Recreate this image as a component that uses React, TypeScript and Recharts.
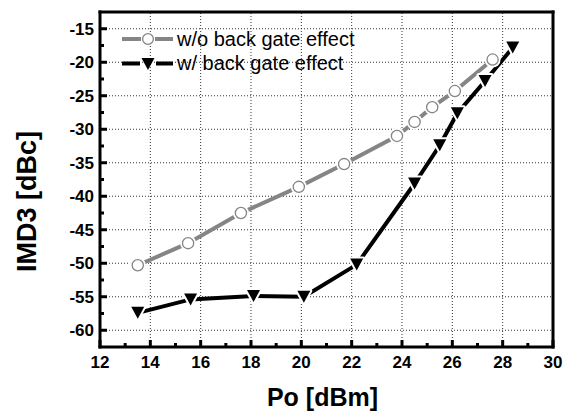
import React from 'react';
import { LineChart, Line, XAxis, YAxis, ReferenceLine } from 'recharts';

// Po [dBm] / IMD3 [dBc]
const poWithout = [13.5, 15.5, 17.6, 19.9, 21.7, 23.8, 24.5, 25.2, 26.1, 27.6];
const imdWithout = [-50.3, -47.0, -42.5, -38.6, -35.2, -31.0, -28.9, -26.7, -24.3, -19.6];
const poWith = [13.5, 15.6, 18.1, 20.1, 22.2, 24.5, 25.5, 26.2, 27.3, 28.4];
const imdWith = [-57.4, -55.4, -54.9, -55.0, -50.2, -38.1, -32.4, -27.6, -22.8, -17.8];

const xTicks = [12, 13, 14, 15, 16, 17, 18, 19, 20, 21, 22, 23, 24, 25, 26, 27, 28, 29, 30];
const yTicks = [-60, -57.5, -55, -52.5, -50, -47.5, -45, -42.5, -40, -37.5, -35, -32.5, -30, -27.5, -25, -22.5, -20, -17.5, -15];
const xGrid = [14, 16, 18, 20, 22, 24, 26, 28];
const yGrid = [-60, -55, -50, -45, -40, -35, -30, -25, -20, -15];

const withoutData = poWithout.map((x, i) => ({ x, y: imdWithout[i] }));
const withData = poWith.map((x, i) => ({ x, y: imdWith[i] }));

const FONT = '"Liberation Sans", Arial, sans-serif';
const GRAY = '#858585';

const tickText = { fontFamily: FONT, fontWeight: 700, fontSize: 17, fill: '#000' };

const isMajorX = (v: number) => v % 2 === 0;
const isMajorY = (v: number) => v % 5 === 0;

const BottomTick = (props: any) => {
  const { x, y, payload } = props;
  const major = isMajorX(payload.value);
  return (
    <g>
      <line x1={x} x2={x} y1={y} y2={y - (major ? 7 : 4)} stroke="#000" strokeWidth={3} />
      {major && (
        <text x={x} y={y + 21} textAnchor="middle" style={tickText}>
          {payload.value}
        </text>
      )}
    </g>
  );
};

const TopTick = (props: any) => {
  const { x, y, payload } = props;
  const major = isMajorX(payload.value);
  return <line x1={x} x2={x} y1={y} y2={y + (major ? 7 : 4)} stroke="#000" strokeWidth={3} />;
};

const LeftTick = (props: any) => {
  const { x, y, payload } = props;
  const major = isMajorY(payload.value);
  return (
    <g>
      <line x1={x} x2={x + (major ? 7 : 4)} y1={y} y2={y} stroke="#000" strokeWidth={3} />
      {major && (
        <text x={x - 6} y={y} dy="0.36em" textAnchor="end" style={tickText}>
          {payload.value}
        </text>
      )}
    </g>
  );
};

const RightTick = (props: any) => {
  const { x, y, payload } = props;
  const major = isMajorY(payload.value);
  return <line x1={x} x2={x - (major ? 7 : 4)} y1={y} y2={y} stroke="#000" strokeWidth={3} />;
};

const CircleDot = (props: any) => {
  const { cx, cy } = props;
  if (cx == null || cy == null) return null;
  return (
    <g>
      <circle cx={cx} cy={cy} r={8} fill="#fff" />
      <circle cx={cx} cy={cy} r={5.6} fill="#fff" stroke={GRAY} strokeWidth={1.3} />
    </g>
  );
};

const triPath = (cx: number, cy: number) => `M${cx - 6.5},${cy - 6} L${cx + 6.5},${cy - 6} L${cx},${cy + 6} Z`;

const TriangleDot = (props: any) => {
  const { cx, cy } = props;
  if (cx == null || cy == null) return null;
  return (
    <g>
      <path d={triPath(cx, cy)} fill="#fff" stroke="#fff" strokeWidth={4} strokeLinejoin="round" />
      <path d={triPath(cx, cy)} fill="#000" />
    </g>
  );
};

const YTitle = (props: any) => {
  const vb = props.viewBox || { x: 0, y: 12, height: 335 };
  const cy = vb.y + vb.height / 2 + 22;
  return (
    <text transform={`translate(36, ${cy}) rotate(-90)`} textAnchor="middle" style={{ fontFamily: FONT, fontWeight: 700, fontSize: 27, fill: '#000' }}>
      IMD3 [dBc]
    </text>
  );
};

const axisLine = { stroke: '#000', strokeWidth: 3, strokeLinecap: 'square' as const };

export default function App() {
  return (
    <div style={{ position: 'fixed', left: 0, top: 0, width: 571, height: 412, background: '#fff' }}>
      <LineChart width={571} height={412} margin={{ top: 10, right: 16, bottom: 0, left: 0 }}>
        <XAxis
          xAxisId="b"
          dataKey="x"
          type="number"
          domain={[12, 30]}
          ticks={xTicks}
          interval={0}
          height={65}
          tickSize={0}
          tickMargin={0}
          tickLine={false}
          axisLine={axisLine}
          tick={<BottomTick />}
          label={{ value: 'Po [dBm]', position: 'insideBottom', offset: 6, dx: -4, style: { fontFamily: FONT, fontWeight: 'bold', fontSize: 25, fill: '#000' } }}
        />
        <XAxis
          xAxisId="t"
          dataKey="x"
          orientation="top"
          type="number"
          domain={[12, 30]}
          ticks={xTicks}
          interval={0}
          height={2}
          tickSize={0}
          tickMargin={0}
          tickLine={false}
          axisLine={axisLine}
          tick={<TopTick />}
        />
        <YAxis
          yAxisId="l"
          type="number"
          domain={[-62.5, -12.5]}
          ticks={yTicks}
          interval={0}
          width={100}
          tickSize={0}
          tickMargin={0}
          tickLine={false}
          axisLine={axisLine}
          tick={<LeftTick />}
          label={{ content: <YTitle /> }}
        />
        <YAxis
          yAxisId="r"
          orientation="right"
          type="number"
          domain={[-62.5, -12.5]}
          ticks={yTicks}
          interval={0}
          width={2}
          tickSize={0}
          tickMargin={0}
          tickLine={false}
          axisLine={axisLine}
          tick={<RightTick />}
        />
        {xGrid.map((v) => (
          <ReferenceLine key={'gx' + v} x={v} xAxisId="b" yAxisId="l" stroke="#333" strokeWidth={1} strokeDasharray="1 2" />
        ))}
        {yGrid.map((v) => (
          <ReferenceLine key={'gy' + v} y={v} xAxisId="b" yAxisId="l" stroke="#333" strokeWidth={1} strokeDasharray="1 2" />
        ))}
        <Line
          xAxisId="b"
          yAxisId="l"
          data={withoutData}
          dataKey="y"
          name="w/o back gate effect"
          stroke={GRAY}
          strokeWidth={4}
          dot={<CircleDot />}
          activeDot={false}
          isAnimationActive={false}
        />
        <Line
          xAxisId="b"
          yAxisId="l"
          data={withData}
          dataKey="y"
          name="w/ back gate effect"
          stroke="#000"
          strokeWidth={4}
          dot={<TriangleDot />}
          activeDot={false}
          isAnimationActive={false}
        />
      </LineChart>
      <svg width={571} height={412} style={{ position: 'absolute', left: 0, top: 0, pointerEvents: 'none' }}>
        <g>
          <line x1={122} x2={141} y1={39} y2={39} stroke={GRAY} strokeWidth={4} />
          <line x1={155} x2={173} y1={39} y2={39} stroke={GRAY} strokeWidth={4} />
          <circle cx={148} cy={39} r={5.4} fill="#fff" stroke={GRAY} strokeWidth={1.3} />
          <text x={177} y={46} style={{ fontFamily: FONT, fontSize: 20, fill: '#000' }}>w/o back gate effect</text>
        </g>
        <g>
          <line x1={122} x2={140} y1={63.5} y2={63.5} stroke="#000" strokeWidth={4} />
          <line x1={156} x2={173} y1={63.5} y2={63.5} stroke="#000" strokeWidth={4} />
          <path d={triPath(148, 64)} fill="#000" />
          <text x={177} y={70} style={{ fontFamily: FONT, fontSize: 20, fill: '#000' }}>w/ back gate effect</text>
        </g>
      </svg>
    </div>
  );
}
